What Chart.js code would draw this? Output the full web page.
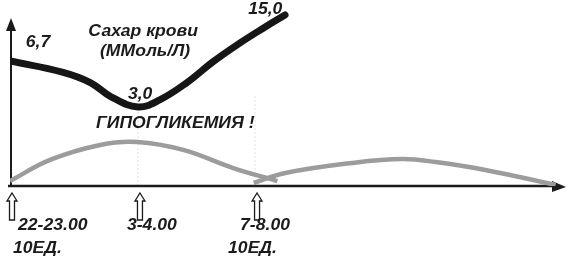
<!DOCTYPE html>
<html>
<head>
<meta charset="utf-8">
<script src="https://cdn.jsdelivr.net/npm/chart.js@4"></script>
<style>
  body { margin: 0; background: #fff; }
  #wrap { width: 570px; height: 280px; }
</style>
</head>
<body>
<div id="wrap"><canvas id="chart"></canvas></div>
<script>
// blood sugar (mmol/l), hours counted from 22:00
const hours = [0.5, 2.45, 3.45, 4.2, 5.2, 6.0, 7.0, 7.95, 8.95, 9.8, 10.6];
const sugar = [6.7, 5.5, 4.6, 3.6, 3.0, 3.4, 4.6, 6.6, 9.2, 11.9, 15.0];

// insulin action after each injection (relative units)
const dose1Hours = [0.5, 1.97, 3.81, 5.17, 6.86, 8.7, 10.32];
const dose1Action = [2.8, 14.8, 23.3, 25, 20.5, 10.2, 2.8];
const dose2Hours = [9.45, 10.61, 13.07, 14.91, 16.13, 17.96, 20.54];
const dose2Action = [1.7, 7.4, 13.1, 15.3, 13.6, 9.1, 0.6];

// arrows under the axis
const injectHours = [0.5, 5.2, 9.5];
const timeLabels = ['22-23.00', '3-4.00', '7-8.00'];
const doseLabels = ['10ЕД.', '', '10ЕД.'];

const font = 'italic bold 16px "Liberation Sans", Arial, sans-serif';
const ink = '#1b1b1b';

function pts(xs, ys) {
  return xs.map((x, i) => ({ x: x, y: ys[i] }));
}

function stretchText(ctx, txt, x, y, align) {
  ctx.save();
  ctx.translate(x, y);
  ctx.scale(1.1, 1);
  ctx.textAlign = align || 'center';
  ctx.textBaseline = 'middle';
  ctx.fillText(txt, 0, 0);
  ctx.restore();
}

function upArrow(ctx, x, top, bottom) {
  ctx.beginPath();
  ctx.moveTo(x, top);
  ctx.lineTo(x + 5, top + 8);
  ctx.lineTo(x + 2.5, top + 8);
  ctx.lineTo(x + 2.5, bottom);
  ctx.lineTo(x - 2.5, bottom);
  ctx.lineTo(x - 2.5, top + 8);
  ctx.lineTo(x - 5, top + 8);
  ctx.closePath();
  ctx.fillStyle = '#fff';
  ctx.fill();
  ctx.lineWidth = 1.3;
  ctx.strokeStyle = ink;
  ctx.stroke();
}

const axesPlugin = {
  id: 'axes',
  beforeDatasetsDraw(chart) {
    const ctx = chart.ctx;
    const a = chart.chartArea;
    ctx.save();
    ctx.strokeStyle = ink;
    ctx.fillStyle = ink;
    // faint guides above the 2nd and 3rd arrows
    ctx.strokeStyle = '#e2e2e2';
    ctx.lineWidth = 1;
    ctx.setLineDash([2, 2]);
    [1, 2].forEach(i => {
      const px = chart.scales.x.getPixelForValue(injectHours[i]);
      ctx.beginPath();
      ctx.moveTo(px, a.bottom);
      ctx.lineTo(px, a.bottom - 90);
      ctx.stroke();
    });
    ctx.setLineDash([]);
    ctx.strokeStyle = ink;
    // y axis
    ctx.lineWidth = 2;
    ctx.beginPath();
    ctx.moveTo(a.left + 1, a.bottom);
    ctx.lineTo(a.left + 1, a.top + 18);
    ctx.stroke();
    ctx.beginPath();
    ctx.moveTo(a.left + 1, a.top + 8);
    ctx.lineTo(a.left + 6, a.top + 21);
    ctx.lineTo(a.left - 4, a.top + 21);
    ctx.closePath();
    ctx.fill();
    // x axis
    ctx.lineWidth = 2.5;
    ctx.beginPath();
    ctx.moveTo(a.left - 2, a.bottom);
    ctx.lineTo(a.right - 4, a.bottom);
    ctx.stroke();
    ctx.beginPath();
    ctx.moveTo(a.right + 6, a.bottom + 1);
    ctx.lineTo(a.right - 8, a.bottom - 5);
    ctx.lineTo(a.right - 8, a.bottom + 6);
    ctx.closePath();
    ctx.fill();
    ctx.restore();
  },
  afterDraw(chart) {
    const ctx = chart.ctx;
    const a = chart.chartArea;
    const xs = chart.scales.x;
    const ys = chart.scales.y;
    ctx.save();
    ctx.font = font;
    ctx.fillStyle = ink;

    // notes on the sugar curve
    const notes = [
      ['6,7', 1.53, 9.18],
      ['3,0', 5.28, 3.7],
      ['15,0', 9.875, 16.35],
      ['Сахар крови', 5.39, 11.3],
      ['(ММоль/Л)', 5.46, 7.85],
      ['ГИПОГЛИКЕМИЯ !', 6.57, 2.23]
    ];
    notes.forEach(n => {
      stretchText(ctx, n[0], xs.getPixelForValue(n[1]), ys.getPixelForValue(n[2]));
    });

    // injection arrows + labels
    const timeDx = [8, -11, -15];
    const doseDx = [3, 0, -27];
    injectHours.forEach((h, i) => {
      const px = xs.getPixelForValue(h);
      upArrow(ctx, px + 2, a.bottom + 7, a.bottom + 34);
      ctx.fillStyle = ink;
      stretchText(ctx, timeLabels[i], px + timeDx[i], a.bottom + 40, 'left');
      if (doseLabels[i]) stretchText(ctx, doseLabels[i], px + doseDx[i], a.bottom + 63, 'left');
    });
    ctx.restore();
  }
};

new Chart(document.getElementById('chart'), {
  type: 'line',
  data: {
    datasets: [
      {
        data: pts(dose1Hours, dose1Action),
        yAxisID: 'y2',
        borderColor: '#9c9c9c',
        borderWidth: 4.5,
        tension: 0.4,
        pointRadius: 0
      },
      {
        data: pts(dose2Hours, dose2Action),
        yAxisID: 'y2',
        borderColor: '#9c9c9c',
        borderWidth: 4.5,
        tension: 0.4,
        pointRadius: 0
      },
      {
        data: pts(hours, sugar),
        yAxisID: 'y',
        borderColor: '#161616',
        borderWidth: 7,
        borderCapStyle: 'round',
        tension: 0.4,
        pointRadius: 0
      }
    ]
  },
  options: {
    responsive: true,
    maintainAspectRatio: false,
    animation: false,
    layout: { padding: { left: 10, right: 10, top: 10, bottom: 94 } },
    plugins: { legend: { display: false }, tooltip: { enabled: false } },
    scales: {
      x: { type: 'linear', min: 0.5, max: 20.7, display: false },
      y: { type: 'logarithmic', min: 0.754, max: 16.35, display: false },
      y2: { type: 'linear', min: 0, max: 100, display: false }
    }
  },
  plugins: [axesPlugin]
});
</script>
</body>
</html>
